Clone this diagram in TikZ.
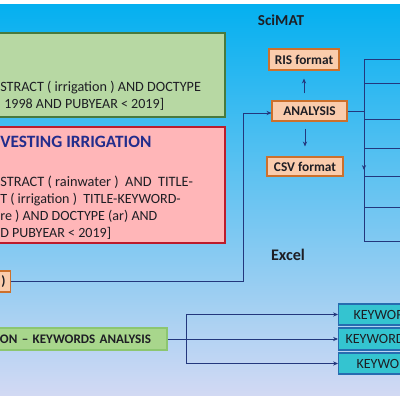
\documentclass[tikz,border=0pt]{standalone}
\usepackage{fontspec}
\setmainfont{Carlito}
\usetikzlibrary{positioning, arrows.meta, calc}

\definecolor{latatas}{RGB}{4,176,240}
\definecolor{lattengah}{RGB}{100,184,232}
\definecolor{latbawah}{RGB}{210,217,243}
\definecolor{hijaufill}{RGB}{183,216,163}
\definecolor{hijautua}{RGB}{72,122,62}
\definecolor{hijaumuda}{RGB}{168,214,140}
\definecolor{hijautepi}{RGB}{140,198,112}
\definecolor{merahfill}{RGB}{255,182,184}
\definecolor{merahtua}{RGB}{188,28,44}
\definecolor{oranyefill}{RGB}{250,204,172}
\definecolor{oranyetua}{RGB}{204,112,44}
\definecolor{kwfill}{RGB}{52,196,208}
\definecolor{kwtepi}{RGB}{38,108,176}
\definecolor{biru}{RGB}{35,55,125}
\definecolor{judulbiru}{RGB}{35,45,140}
\definecolor{teksgelap}{RGB}{30,30,36}

\begin{document}
\begin{tikzpicture}[x=0.25mm, y=-0.25mm,
      font=\fontsize{10pt}{12pt}\selectfont,
      hijaublok/.style={draw=hijautua, very thick, fill=hijaufill, minimum width=58.75mm},
      merahblok/.style={draw=merahtua, very thick, fill=merahfill, minimum width=58.75mm},
      oranyeblok/.style={draw=oranyetua, thick, fill=oranyefill, inner sep=2pt, text=teksgelap, font=\fontsize{9.5pt}{10pt}\selectfont\bfseries},
      kwblok/.style={draw=kwtepi, thick, fill=kwfill, anchor=west, minimum height=5.25mm, text width=16mm, align=left, text=teksgelap, font=\fontsize{10pt}{11pt}\selectfont},
      teks/.style={anchor=west, align=left, inner sep=0pt, text=teksgelap},
      judul/.style={font=\fontsize{10.8pt}{12pt}\selectfont\bfseries, text=teksgelap},
      garis/.style={draw=biru, line width=0.7pt},
      panah/.style={-{Stealth[length=3.5pt, width=3pt]}, draw=biru, line width=0.7pt}
    ]

    % ─── Background ──────────────────────────────────────────────
    \useasboundingbox (0,0) rectangle (400,400);
    \fill[white] (0,0) rectangle (400,400);
    \shade[top color=latatas, middle color=lattengah, bottom color=latbawah] (0,4) rectangle (400,395);

    % ─── Query blocks (kolom kiri) ───────────────────────────────
    \node[hijaublok, minimum height=21mm] (qirig) at (107.5, 75) {};
    \node[teks] (tirig) at (0, 96) {\fontsize{10.1pt}{12.8pt}\selectfont STRACT ( irrigation ) AND DOCTYPE\\ \hspace*{1mm}1998 AND PUBYEAR < 2019]};

    \node[merahblok, minimum height=29mm] (qrain) at (107.5, 185) {};
    \node[teks, text=judulbiru, font=\fontsize{12.3pt}{13pt}\selectfont\bfseries] (jrain) at (0, 142) {VESTING IRRIGATION};
    \node[teks] (train) at (0, 208) {\fontsize{10.2pt}{11.8pt}\selectfont STRACT ( rainwater )\ \ AND\ \ TITLE-\\ T ( irrigation )\ \ TITLE-KEYWORD-\\ re ) AND DOCTYPE (ar) AND\\ D PUBYEAR < 2019]};

    % ─── Export block ────────────────────────────────────────────
    \node[oranyeblok, anchor=east, minimum width=6mm, minimum height=5.25mm, text width=3.5mm, align=right] (xls) at (11, 281.5) {)};

    % ─── SciMAT ──────────────────────────────────────────────────
    \node[judul] (scimat) at (281, 20) {SciMAT};
    \node[oranyeblok, minimum width=18.75mm, minimum height=5mm] (ana) at (309.5, 111) {ANALYSIS};
    \node[oranyeblok, minimum width=17.5mm, minimum height=5.25mm] (ris) at (304, 59.5) {RIS format};
    \node[oranyeblok, minimum width=19mm, minimum height=4.75mm] (csv) at (305, 166.5) {CSV format};

    \node[judul, font=\fontsize{11.5pt}{12pt}\selectfont\bfseries] (excel) at (288, 255) {Excel};

    % ─── Keywords analysis (bawah) ───────────────────────────────
    \node[draw=hijautepi, thick, fill=hijaumuda, minimum height=5.5mm, text width=39.25mm, inner xsep=2.5mm, align=left, text=teksgelap, font=\fontsize{9.3pt}{10pt}\selectfont\bfseries] (kw) at (78.5, 339) {ON – KEYWORDS ANALYSIS};

    \node[kwblok, inner xsep=3.75mm] (kw1) at (338, 314.5) {KEYWOR};
    \node[kwblok, inner xsep=1.75mm, minimum height=5.5mm] (kw2) at (338, 339) {KEYWORD};
    \node[kwblok, inner xsep=4.5mm] (kw3) at (338, 363.5) {KEYWOR};

    % ─── Arrows ──────────────────────────────────────────────────
    % Export → ANALYSIS
    \coordinate (belok) at (243, 113);
    \draw[panah] (xls.east) -| (belok) -- (ana.west |- belok);

    % ANALYSIS → RIS / CSV
    \draw[panah, shorten <=1.75mm, shorten >=2mm] (ana.north -| ris.south) -- (ris.south);
    \draw[panah, shorten <=1.75mm, shorten >=2.5mm] (ana.south -| csv.north) -- (csv.north);

    % ANALYSIS → cabang kanan
    \coordinate (cabang) at (364, 111);
    \coordinate (ujung) at (364, 170);
    \draw[garis] (ana.east) -- (cabang);
    \foreach \yy [count=\i] in {59, 83, 119, 148, 176, 207, 241} {
      \coordinate (r\i) at (405, \yy);
      \draw[garis] (cabang |- r\i) -- (r\i);
    }
    \draw[garis] (cabang |- r1) -- (cabang |- r7);
    \draw[panah] (cabang) -- (ujung);

    % Keywords analysis → KEYWORD blocks
    \coordinate (cabang2) at (186, 339);
    \draw[garis] (kw.east) -- (cabang2);
    \draw[garis] (cabang2 |- kw1.west) -- (cabang2 |- kw3.west);
    \foreach \k in {kw1, kw2, kw3}
      \draw[panah] (cabang2 |- \k.west) -- (\k.west);

\end{tikzpicture}
\end{document}
